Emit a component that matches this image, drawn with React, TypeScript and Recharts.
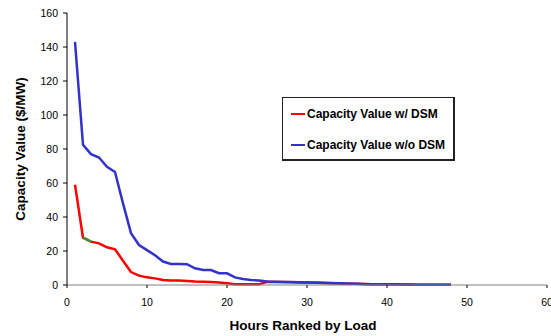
import React from 'react';
import { LineChart, Line, XAxis, YAxis, Label } from 'recharts';

// hours ranked by load (1 = peak hour)
const hours = [
  1, 2, 3, 4, 5, 6, 7, 8, 9, 10, 11, 12, 13, 14, 15, 16, 17, 18, 19, 20, 21, 22, 23, 24,
  25, 26, 27, 28, 29, 30, 31, 32, 33, 34, 35, 36, 37, 38, 39, 40, 41, 42, 43, 44, 45, 46, 47, 48,
];

const withDsm = [
  59, 27.8, 25.5, 24.5, 22.2, 21, 14.3, 7.6, 5.5, 4.5, 3.9, 2.9, 2.7, 2.6, 2.4, 2.0, 1.9, 1.8, 1.4, 1.0, 0.5, 0.4, 0.4, 0.4,
  1.9, 1.8, 1.7, 1.6, 1.5, 1.4, 1.3, 1.2, 1.1, 0.9, 0.8, 0.7, 0.6, 0.5, 0.4, 0.4, 0.3, 0.3, 0.2, 0.2, 0.1, 0.1, 0.1, 0.1,
];

const withoutDsm = [
  143, 82.5, 77, 75, 69.5, 66.5, 48, 30.5, 23.5, 20.5, 17.5, 13.8, 12.4, 12.3, 12.2, 9.8, 8.8, 8.8, 6.9, 6.9, 4.5, 3.5, 2.9, 2.7,
  2.0, 1.9, 1.8, 1.7, 1.6, 1.5, 1.4, 1.3, 1.2, 1.0, 0.9, 0.7, 0.6, 0.5, 0.5, 0.4, 0.4, 0.3, 0.3, 0.2, 0.2, 0.1, 0.1, 0.1,
];

// short green stretch drawn over the red curve between hours 2 and 3
const greenHours = [2, 3];

const xTicks = [0, 10, 20, 30, 40, 50, 60];
const yTicks = [0, 20, 40, 60, 80, 100, 120, 140, 160];

const legendItems = [
  { label: 'Capacity Value w/ DSM', color: '#ff0000' },
  { label: 'Capacity Value w/o DSM', color: '#3333cc' },
];

const data = hours.map((h, i) => ({
  hour: h,
  dsm: withDsm[i],
  noDsm: withoutDsm[i],
  green: greenHours.includes(h) ? withDsm[i] : null,
}));

const font = '"Liberation Sans", Arial, sans-serif';

function LegendBox() {
  return (
    <div
      style={{
        position: 'absolute',
        left: 282,
        top: 97,
        width: 170,
        height: 61,
        border: '1px solid #222',
        borderRightWidth: 2,
        borderBottomWidth: 2,
        background: '#fff',
        fontFamily: font,
        fontWeight: 'bold',
        fontSize: 12,
        color: '#000',
      }}
    >
      {legendItems.map((it, i) => (
        <div
          key={it.label}
          style={{
            position: 'absolute',
            left: 8,
            top: i === 0 ? 9 : 40,
            display: 'flex',
            alignItems: 'center',
            whiteSpace: 'nowrap',
          }}
        >
          <span style={{ display: 'inline-block', width: 14, height: 2, background: it.color, marginRight: 2 }} />
          <span>{it.label}</span>
        </div>
      ))}
    </div>
  );
}

export default function App() {
  return (
    <div style={{ position: 'absolute', left: 0, top: 0, width: 551, height: 336, background: '#fff' }}>
      <LineChart
        width={551}
        height={336}
        data={data}
        margin={{ top: 13, right: 4, bottom: 0, left: 0 }}
        style={{ fontFamily: font }}
      >
        <XAxis
          dataKey="hour"
          type="number"
          domain={[0, 60]}
          ticks={xTicks}
          height={51}
          tickSize={3}
          tickMargin={11}
          stroke="#808080"
          tick={{ fill: '#000', fontSize: 10.5 }}
          tickLine={{ stroke: '#000' }}
          interval={0}
        >
          <Label
            value="Hours Ranked by Load"
            position="insideBottom"
            offset={6}
            dx={-4}
            style={{ fontWeight: 'bold', fontSize: 13.5, fill: '#000' }}
          />
        </XAxis>
        <YAxis
          domain={[0, 160]}
          ticks={yTicks}
          width={67}
          tickSize={4}
          tickMargin={5}
          stroke="#000"
          tick={{ fill: '#000', fontSize: 10.5 }}
          interval={0}
        >
          <Label
            value="Capacity Value ($/MW)"
            angle={-90}
            position="insideLeft"
            offset={20}
            style={{ fontWeight: 'bold', fontSize: 13.5, fill: '#000', textAnchor: 'middle' }}
          />
        </YAxis>
        <Line dataKey="dsm" stroke="#ff0000" strokeWidth={2.5} dot={false} isAnimationActive={false} />
        <Line dataKey="green" stroke="#339933" strokeWidth={2.5} dot={false} isAnimationActive={false} />
        <Line dataKey="noDsm" stroke="#3333cc" strokeWidth={2.5} dot={false} isAnimationActive={false} />
      </LineChart>
      <LegendBox />
    </div>
  );
}
